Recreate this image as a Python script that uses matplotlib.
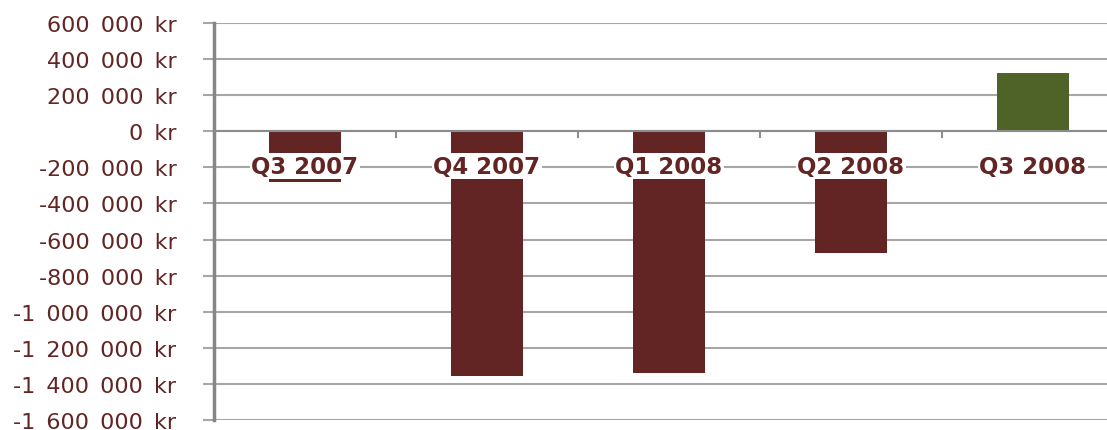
import matplotlib
matplotlib.use("Agg")
from matplotlib import pyplot as plt
from matplotlib.ticker import FuncFormatter, MultipleLocator

quarters = ["Q3 2007", "Q4 2007", "Q1 2008", "Q2 2008", "Q3 2008"]
values = [-282000, -1357000, -1340000, -676000, 321000]

red = "#632523"
green = "#4f6228"
grid_col = "#a6a6a6"


def kr(v, pos):
    # en space as thousands separator, like the wide Excel labels
    s = "{:,.0f}".format(abs(v)).replace(",", "\u2002")
    return ("-" if v < 0 else "") + s + "\u2002kr"


fig = plt.figure(figsize=(11.07, 4.31), dpi=100)
# plot area runs a little past the right edge of the image, as in the original
ax = fig.add_axes([0.1933, 0.0232, 0.822, 0.9211])

x = list(range(len(quarters)))
colors = [green if v > 0 else red for v in values]
ax.bar(x, values, width=0.4, color=colors, zorder=2)

ax.set_xlim(-0.5, len(quarters) - 0.5)
ax.set_ylim(-1600000, 600000)
ax.yaxis.set_major_locator(MultipleLocator(200000))
ax.yaxis.set_major_formatter(FuncFormatter(kr))
ax.grid(axis="y", color=grid_col, linewidth=1.5, zorder=0)
ax.tick_params(axis="y", colors=grid_col, labelcolor=red, labelsize=16,
               length=8, width=1.5, pad=19)

# category boundary ticks on the zero line
for b in [0.5, 1.5, 2.5, 3.5]:
    ax.plot([b, b], [0, -30000], color="#8c8c8c", linewidth=1.5, zorder=3)
ax.axhline(0, color="#8c8c8c", linewidth=1.5, zorder=3)
ax.set_xticks([])

for i, q in enumerate(quarters):
    ax.text(i, -194000, q, ha="center", va="center", fontsize=16.5,
            fontweight="bold", color=red, zorder=4,
            bbox=dict(facecolor="white", edgecolor="none", pad=1.0))

for side in ["top", "right", "bottom"]:
    ax.spines[side].set_visible(False)
ax.spines["left"].set_color("#868686")
ax.spines["left"].set_linewidth(2.5)

fig.savefig("out.png", dpi=100)
